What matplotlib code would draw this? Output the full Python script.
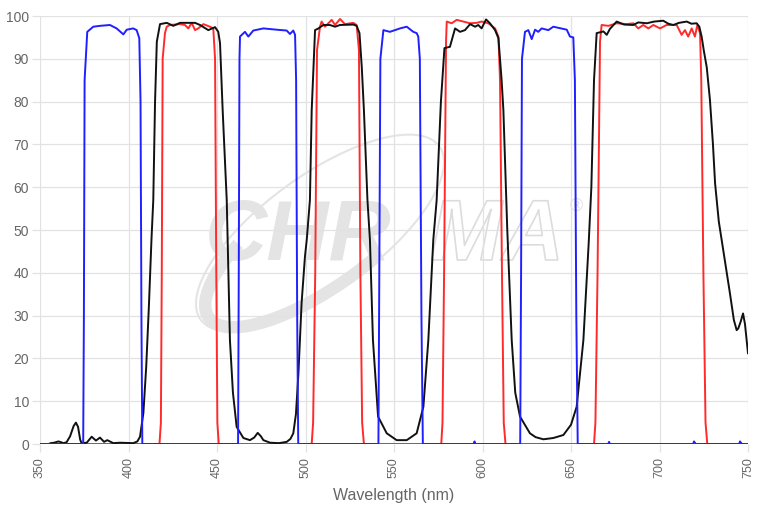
import matplotlib
matplotlib.use("Agg")
import matplotlib.pyplot as plt
from matplotlib.patches import Ellipse, Arc
import matplotlib.patheffects as pe

# excitation filter (blue)
blue_wl = [350, 374.4, 374.8, 375.2, 376.7, 380.1, 383.9, 389.5, 393.3, 397.1, 399, 402.7, 404.6, 406.1, 406.8, 407.3, 407.8,
           461.9, 462.3, 462.7, 463, 465.8, 467.7, 470.5, 476.2, 483.7, 489.4, 491.2, 493.1, 494.1, 494.7, 495.3, 495.9,
           541.2, 541.7, 542.3, 544, 547.7, 553.4, 557.2, 560.9, 562.8, 563.7, 564.6, 565.5, 566.3,
           595, 595.5, 596,
           621.3, 621.8, 622.3, 624, 625.9, 627.8, 629.7, 631.5, 633.4, 637.2, 640, 647.6, 649.4, 651.3, 652.2, 653, 653.8,
           671, 671.5, 672, 719, 719.5, 720.5, 745, 745.5, 746.5, 750]
blue_t = [0, 0, 30, 85, 96.3, 97.5, 97.7, 97.9, 97.1, 95.7, 96.8, 97.1, 96.7, 94.8, 80, 30, 0,
          0, 40, 90, 95.2, 96.3, 95.2, 96.6, 97.1, 96.8, 96.6, 95.8, 96.6, 95.6, 85, 30, 0,
          0, 40, 90, 96.7, 96.3, 97.1, 97.5, 96.3, 96, 95.2, 90, 30, 0,
          0, 0.6, 0,
          0, 40, 90, 96.3, 96.7, 94.6, 96.8, 96.3, 97.1, 96.7, 97.5, 96.8, 95.2, 95, 85, 30, 0,
          0, 0.5, 0, 0, 0.6, 0, 0, 0.6, 0, 0]

# emission filter (red)
red_wl = [350, 417.5, 418.3, 418.8, 419.3, 420.6, 421.6, 423.4, 429.1, 431.9, 433.8, 435.7, 437.6, 439.4, 442.3, 446, 447.9, 448.9, 449.6, 450.2, 451,
          503.5, 504.3, 505.5, 506.5, 508.2, 509.1, 511, 514.8, 516.7, 519.5, 522.3, 527, 528.9, 530.2, 531, 532, 533,
          576.7, 577.4, 578.3, 579.4, 579.8, 582.6, 585.4, 589.2, 592.9, 596.7, 599.5, 603.3, 607.1, 609, 609.9, 611, 612, 613,
          663, 663.8, 665, 666.4, 667.3, 671.1, 675.8, 681.4, 685.2, 688, 690.8, 693.7, 696.5, 700.3, 704, 709.7, 712.5, 714.4,
          716.2, 718.2, 720, 721.4, 722.9, 723.6, 724.8, 726, 727, 750]
red_t = [0, 0, 5, 40, 90, 96, 97.5, 97.9, 98.1, 97.9, 97.1, 98.4, 96.7, 97.1, 98.1, 97.5, 97.1, 90, 40, 5, 0,
         0, 5, 40, 92, 97.5, 98.7, 97.5, 99.1, 97.9, 99.3, 98.1, 98.4, 97.9, 92, 40, 5, 0,
         0, 5, 40, 94, 98.7, 98.3, 99.1, 98.7, 98.3, 98.4, 98.7, 98.3, 97.1, 95.2, 85, 40, 5, 0,
         0, 5, 40, 94, 97.9, 97.7, 98.3, 98.1, 98.3, 97.1, 97.9, 97.1, 97.9, 97.1, 97.9, 97.9, 95.6, 96.7,
         95.2, 97.1, 95.2, 97.9, 96, 85, 40, 5, 0, 0]

# dichroic (black)
black_wl = [355, 356, 358, 360.4, 362, 363.2, 365, 367, 369, 370.3, 371.5, 372.7, 373.5, 376.4, 379.2, 381.6, 383.9, 386.2, 388, 391.4,
            395.2, 402.7, 405, 406.5, 408.4, 410, 411.5, 413, 414, 415, 416, 417.8, 421.6, 425.3, 429.1, 437.6, 440.4, 445.1, 448.9,
            450.7, 451.7, 453.2, 455.5, 457.3, 459, 461.1, 464.9, 468.6, 471, 473, 474.8, 476.2, 480, 485, 489.4, 491.5, 493.1,
            494.6, 496, 497.8, 499.7, 500.7, 502.5, 503.5, 505.4, 507.3, 510.1, 513.8, 516.7, 519.5, 527, 528.9, 530.5, 531.8,
            533, 535, 536.4, 538.1, 541, 545.9, 551.5, 557.2, 562.8, 566.6, 569.4, 572.2, 574.1, 576.5, 578.5, 581.6, 584.5,
            587.3, 590.1, 593, 595.8, 597.6, 599.5, 602, 604.2, 607.1, 609, 610.8, 611.8, 612.8, 614, 616.5, 618.5, 621.2, 626.8,
            630, 634.4, 640, 645.7, 650, 653.2, 657, 660, 661.5, 663, 664.5, 668.3, 670.2, 672, 675.8, 680, 685.2, 688, 692.8,
            697, 702.1, 705, 707.8, 711, 715.4, 718, 721, 722.5, 723.8, 725, 726.7, 728.5, 730.2, 731.4, 733.5, 736, 739.8, 742,
            743.6, 744.5, 745.8, 747.2, 748.3, 750]
black_t = [0, 0.2, 0.3, 0.6, 0.4, 0.2, 0.4, 1.8, 4.2, 5, 4, 1, 0.2, 0.3, 1.7, 0.8, 1.5, 0.5, 0.9, 0.2,
           0.3, 0.2, 0.6, 1.7, 7.2, 18, 32, 48, 57, 80, 94, 98.1, 98.4, 97.7, 98.4, 98.4, 97.9, 96.7, 97.4,
           96.3, 93.7, 78, 57, 24.3, 12, 4, 1.4, 0.9, 1.5, 2.6, 1.8, 0.9, 0.3, 0.2, 0.5, 1.2, 2.5,
           7, 16.5, 33, 43.8, 47.7, 57, 78, 96.7, 97.1, 97.9, 97.9, 97.5, 97.9, 98, 97.7, 96, 88,
           78, 57, 47.7, 24.3, 6.4, 2.5, 0.9, 0.9, 2.5, 8.7, 24.3, 47.7, 57, 80, 92.5, 92.8, 97.1,
           96.3, 96.7, 98.1, 97.5, 97.9, 97.1, 99.2, 98.3, 96.7, 94.8, 85, 78, 65, 50, 24.3, 12, 6.4, 2.5,
           1.6, 1.1, 1.4, 2.1, 4.5, 8.7, 24.3, 47, 60, 85, 96, 96.4, 95.6, 97, 98.7, 98, 97.9, 98.5, 98.3,
           98.7, 98.9, 98.2, 97.9, 98.4, 98.7, 98.2, 98.3, 97.5, 95.2, 92, 88, 80.4, 70, 60.9, 52, 45.3, 35.2, 29,
           26.6, 27, 28.5, 30.5, 28, 21.2]

x_ticks = [350, 400, 450, 500, 550, 600, 650, 700, 750]
y_ticks = [0, 10, 20, 30, 40, 50, 60, 70, 80, 90, 100]

fig = plt.figure(figsize=(7.62, 5.11), dpi=100)
ax = fig.add_axes([40 / 762, 1 - 444 / 511, 708 / 762, 428 / 511])

# watermark
ax.text(0.233, 0.43, "CHR", transform=ax.transAxes, fontsize=62, fontweight="bold", style="italic",
        family="Liberation Sans", color="#e4e4e4", zorder=0.1)
ax.text(0.551, 0.43, "MA", transform=ax.transAxes, fontsize=62, fontweight="bold", style="italic",
        family="Liberation Sans", color="none", zorder=0.1,
        path_effects=[pe.Stroke(linewidth=1.2, foreground="#dcdcdc")])
ax.text(0.748, 0.545, "®", transform=ax.transAxes, fontsize=13, family="Liberation Sans",
        color="#e0e0e0", zorder=0.1)
ax.add_patch(Ellipse((3.20, 2.78), 2.95, 1.15, angle=36, transform=fig.dpi_scale_trans,
                     fill=False, ec="#e4e4e4", lw=1.5, zorder=0.1))
ax.add_patch(Arc((3.23, 2.76), 2.82, 1.0, angle=36, theta1=150, theta2=300, transform=fig.dpi_scale_trans,
                 ec="#e4e4e4", lw=9, zorder=0.1))

ax.plot(red_wl, red_t, color="#ff2a2a", lw=1.4, zorder=2)
ax.plot(black_wl, black_t, color="#111111", lw=1.4, zorder=3)
ax.plot(blue_wl, blue_t, color="#2020ff", lw=1.4, zorder=4)

ax.set_xlim(350, 750)
ax.set_ylim(0, 100)
ax.set_xticks(x_ticks)
ax.set_yticks(y_ticks)
ax.set_axisbelow(True)
ax.grid(True, color="#e2e2e2", lw=0.9)
for s in ax.spines.values():
    s.set_visible(False)
ax.tick_params(colors="#e2e2e2", length=6, width=0.9, labelcolor="#666666", labelsize=9)
ax.tick_params(axis="y", pad=2)
for lab in ax.get_xticklabels():
    lab.set_rotation(90)
    lab.set_family("Liberation Sans")
for lab in ax.get_yticklabels():
    lab.set_family("Liberation Sans")
    lab.set_fontsize(10)
ax.set_xlabel("Wavelength (nm)", color="#666666", fontsize=11.5, family="Liberation Sans", labelpad=7)

plt.savefig("out.png", dpi=100)
